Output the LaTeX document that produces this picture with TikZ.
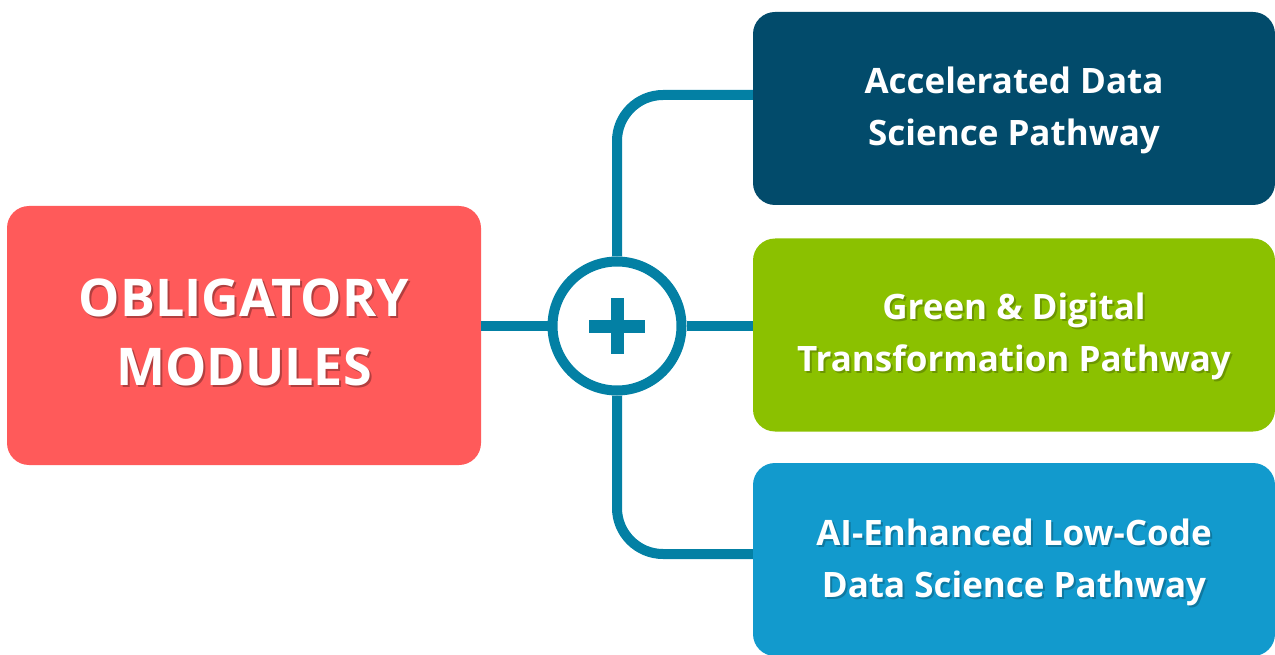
\documentclass[tikz,border=0pt]{standalone}
\usepackage{fontspec}
\setmainfont{Open Sans}
\usepackage{xcolor}
\definecolor{obred}{RGB}{255,90,90}
\definecolor{darkpath}{RGB}{2,75,107}
\definecolor{greenpath}{RGB}{139,193,0}
\definecolor{bluepath}{RGB}{18,154,205}
\definecolor{linkteal}{RGB}{3,128,164}
\usepackage{tikz}
\usetikzlibrary{calc,positioning}

% text with a soft offset shadow
\newcommand{\shadowed}[2]{\makebox[0pt][l]{\kern2pt\raisebox{-2pt}{\textcolor{#1}{#2}}}#2}

\tikzset{
  pathbox/.style={rounded corners=22pt, inner sep=0pt, minimum width=522pt, minimum height=193pt},
  pathtext/.style={text=white, align=center, font=\fontsize{35}{52}\selectfont\bfseries},
  link/.style={draw=linkteal, line width=10pt}
}

\begin{document}
\begin{tikzpicture}[x=1pt,y=-1pt]
  \useasboundingbox (0,0) rectangle (1275,655);
  % Left block
  \node[fill=obred, rounded corners=22pt, inner sep=0pt, minimum width=474pt, minimum height=259pt] (oblig) at (244,335.5) {};
  \node[text=white, align=center, font=\fontsize{52}{69}\selectfont\bfseries] (obligtext) at (244,333) {\shadowed{obred!70!black}{OBLIGATORY}\\\shadowed{obred!70!black}{MODULES}};
  % Pathways
  \node[pathbox, fill=darkpath] (dark) at (1014,108.5) {};
  \node[pathbox, fill=greenpath] (green) at (1014,335) {};
  \node[pathbox, fill=bluepath] (blue) at (1014,559.5) {};
  \node[pathtext] (darktext) at (1014,110) {Accelerated Data\\Science Pathway};
  \node[pathtext] (greentext) at (1014,337) {\shadowed{greenpath!78!black}{Green \& Digital}\\\shadowed{greenpath!78!black}{Transformation Pathway}};
  \node[pathtext] (bluetext) at (1014,563) {\shadowed{bluepath!78!black}{AI-Enhanced Low-Code}\\\shadowed{bluepath!78!black}{Data Science Pathway}};
  % Plus hub
  \node[circle, draw=linkteal, line width=10pt, inner sep=0pt, minimum size=129pt] (plus) at (617,326) {};
  \draw[linkteal, line width=13pt] ($(plus.center)+(-28,0)$) -- ($(plus.center)+(28,0)$);
  \draw[linkteal, line width=13pt] ($(plus.center)+(0,-28)$) -- ($(plus.center)+(0,28)$);
  % Links
  \draw[link] (plus.west -| oblig.east) -- (plus.west);
  \draw[link] (plus.east) -- (plus.east -| green.west);
  \draw[link, rounded corners=46pt] (plus.north) |- ([yshift=13.5pt]dark.west);
  \draw[link, rounded corners=46pt] (plus.south) |- ([yshift=5.5pt]blue.west);
\end{tikzpicture}
\end{document}
